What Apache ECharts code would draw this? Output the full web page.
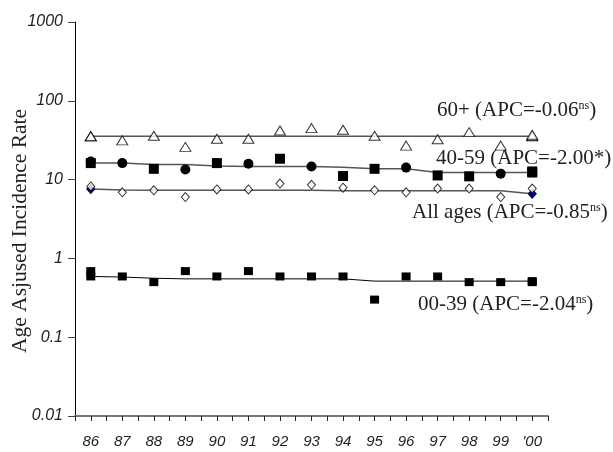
<!DOCTYPE html>
<html><head><meta charset="utf-8">
<script src="https://cdn.jsdelivr.net/npm/echarts@6/dist/echarts.min.js"></script>
<style>html,body{margin:0;padding:0;background:#fff}#c{width:613px;height:452px}</style>
</head><body><div id="c"></div>
<script>
// ---- data ----
const years = [86, 87, 88, 89, 90, 91, 92, 93, 94, 95, 96, 97, 98, 99, 100];
const xTickLabels = ['86', '87', '88', '89', '90', '91', '92', '93', '94', '95', '96', '97', '98', '99', "'00"];
const yTickLabels = ['0.01', '0.1', '1', '10', '100', '1000'];

const rate60 = [35.5, 31.5, 36, 26, 33, 33, 42, 45, 43, 36, 27, 32.5, 40, 27, 37];
const fit60 = [35.5, 35.5, 35.5, 35.5, 35.5, 35.5, 35.5, 35.5, 35.5, 35.5, 35.5, 35.5, 35.5, 35.5, 35.5];

const rate40 = [17.0, 16.2, 13.7, 13.4, 16.2, 15.9, 18.4, 14.7, 11.1, 13.7, 14.2, 11.3, 11.0, 11.9, 12.7];
const fit40 = [16.2, 16.2, 15.5, 15.5, 14.9, 14.7, 14.7, 14.7, 14.3, 13.7, 13.7, 12.3, 12.3, 12.3, 12.3];

const rateAll = [8.2, 6.9, 7.3, 6.0, 7.5, 7.5, 8.9, 8.6, 7.9, 7.3, 6.9, 7.7, 7.7, 6.0, 7.7];
const fitAll = [7.6, 7.4, 7.3, 7.3, 7.3, 7.3, 7.3, 7.3, 7.2, 7.2, 7.2, 7.2, 7.2, 7.2, 6.6];

const rate00 = [0.69, 0.59, 0.50, 0.69, 0.59, 0.69, 0.59, 0.59, 0.59, 0.30, 0.59, 0.59, 0.50, 0.50, 0.50];
const fit00 = [0.59, 0.58, 0.56, 0.55, 0.55, 0.55, 0.55, 0.55, 0.55, 0.515, 0.515, 0.515, 0.515, 0.515, 0.515];

const seriesLabels = [
  {name: '60+', apc: '-0.06', sig: 'ns'},
  {name: '40-59', apc: '-2.00', sig: '*'},
  {name: 'All ages', apc: '-0.85', sig: 'ns'},
  {name: '00-39', apc: '-2.04', sig: 'ns'}
];

// ---- styles ----
const marks40 = ['circle', 'circle', 'rect', 'circle', 'rect', 'circle', 'rect', 'circle', 'rect', 'rect', 'circle', 'rect', 'rect', 'circle', 'rect'];
const pair = (arr) => years.map((y, i) => [y, arr[i]]);
const serif = 'Liberation Serif, Times New Roman, serif';
const sans = 'Liberation Sans, Arial, sans-serif';

function fitSeries(arr, color, width, endSymbol, endSize, endStyle) {
  return {
    type: 'line', data: years.map((y, i) => {
      const d = {value: [y, arr[i]]};
      if (i === 0 || i === years.length - 1) {
        d.symbol = endSymbol; d.symbolSize = endSize; d.itemStyle = endStyle;
      } else {
        d.symbol = 'none';
      }
      return d;
    }),
    showAllSymbol: true,
    lineStyle: {color: color, width: width},
    itemStyle: endStyle,
    z: 2, silent: true
  };
}

const labelStyle = (x, y, txt, withSup) => ({
  type: 'text', x: x, y: y, z: 0,
  style: Object.assign({text: txt, font: '21px ' + serif, fill: '#222', textVerticalAlign: 'middle'},
    withSup ? {rich: {s: {fontSize: 12, fontFamily: serif, verticalAlign: 'top', fill: '#222'}}} : {})
});

const chart = echarts.init(document.getElementById('c'));
chart.setOption({
  animation: false,
  backgroundColor: '#fff',
  grid: {left: 75, right: 65, top: 22, bottom: 36, containLabel: false},
  xAxis: {
    type: 'value', min: 85.5, max: 100.5, interval: 0.5,
    axisLine: {lineStyle: {color: '#777', width: 2}},
    axisTick: {show: true, length: 5, lineStyle: {color: '#222', width: 1}},
    splitLine: {show: false},
    axisLabel: {
      margin: 18, fontFamily: sans, fontStyle: 'italic', fontSize: 15, color: '#222',
      formatter: (v) => {
        const k = Math.round(v * 2) / 2;
        if (k % 1 !== 0) return '';
        const idx = k - years[0];
        return xTickLabels[idx] || '';
      }
    }
  },
  yAxis: {
    type: 'log', logBase: 10, min: 0.01, max: 1000,
    axisLine: {show: true, lineStyle: {color: '#000', width: 1}},
    axisTick: {show: true, length: 7, lineStyle: {color: '#444'}},
    splitLine: {show: false},
    minorTick: {show: false},
    axisLabel: {
      margin: 12, fontFamily: sans, fontStyle: 'italic', fontSize: 16, color: '#222',
      formatter: (v) => yTickLabels[Math.round(Math.log10(v)) + 2] || ''
    }
  },
  graphic: [
    {type: 'text', x: 20, y: 231, rotation: Math.PI / 2, z: 10,
     style: {text: 'Age Asjused Incidence Rate', font: '21.5px ' + serif, fill: '#222', textAlign: 'center', textVerticalAlign: 'middle'}},
    labelStyle(437, 110, seriesLabels[0].name + ' (APC=' + seriesLabels[0].apc + '{s|' + seriesLabels[0].sig + '})', true),
    labelStyle(436, 158, seriesLabels[1].name + ' (APC=' + seriesLabels[1].apc + seriesLabels[1].sig + ')', false),
    labelStyle(412, 212, seriesLabels[2].name + ' (APC=' + seriesLabels[2].apc + '{s|' + seriesLabels[2].sig + '})', true),
    labelStyle(418, 304, seriesLabels[3].name + ' (APC=' + seriesLabels[3].apc + '{s|' + seriesLabels[3].sig + '})', true)
  ],
  series: [
    fitSeries(fit60, '#555', 1.5, 'triangle', [11, 9], {color: '#fff', borderColor: '#000', borderWidth: 1}),
    fitSeries(fit40, '#555', 1.5, 'rect', [10, 10], {color: '#000'}),
    fitSeries(fitAll, '#555', 1.5, 'diamond', [8, 9], {color: '#000080', borderColor: '#000040', borderWidth: 1}),
    fitSeries(fit00, '#000', 1, 'rect', [9, 8], {color: '#000'}),
    {type: 'scatter', data: pair(rate60), symbol: 'triangle', symbolSize: [11, 9],
     itemStyle: {color: '#fff', borderColor: '#000', borderWidth: 1}, z: 3},
    {type: 'scatter', data: years.map((y, i) => ({value: [y, rate40[i]], symbol: marks40[i]})), symbolSize: 10,
     itemStyle: {color: '#000', opacity: 1}, z: 3},
    {type: 'scatter', data: pair(rateAll), symbol: 'diamond', symbolSize: [8, 9],
     itemStyle: {color: '#fff', borderColor: '#000', borderWidth: 1}, z: 3},
    {type: 'scatter', data: pair(rate00), symbol: 'rect', symbolSize: [9, 8],
     itemStyle: {color: '#000', opacity: 1}, z: 3}
  ]
});
</script>
</body></html>
